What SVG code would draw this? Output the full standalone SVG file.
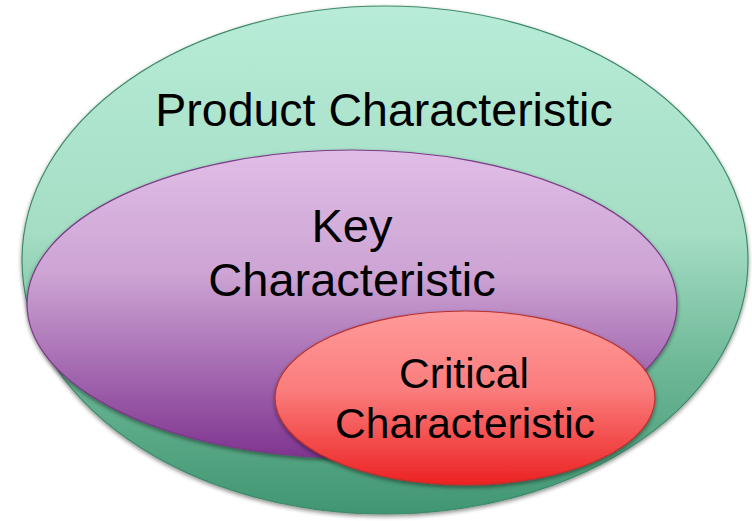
<svg xmlns="http://www.w3.org/2000/svg" width="752" height="521" viewBox="0 0 752 521">
  <defs>
    <linearGradient id="gGreen" x1="0" y1="0" x2="0" y2="1">
      <stop offset="0" stop-color="#b8ecd8"/>
      <stop offset="0.45" stop-color="#a4ddc4"/>
      <stop offset="0.7" stop-color="#6fb998"/>
      <stop offset="1" stop-color="#419672"/>
    </linearGradient>
    <linearGradient id="gPurple" x1="0" y1="0" x2="0" y2="1">
      <stop offset="0" stop-color="#e0bde6"/>
      <stop offset="0.4" stop-color="#cda4d4"/>
      <stop offset="1" stop-color="#7f3490"/>
    </linearGradient>
    <linearGradient id="gRed" x1="0" y1="0" x2="0" y2="1">
      <stop offset="0" stop-color="#ff9a9a"/>
      <stop offset="0.45" stop-color="#fb7d7d"/>
      <stop offset="1" stop-color="#ec2222"/>
    </linearGradient>
    <filter id="shadow" x="-10%" y="-10%" width="120%" height="125%">
      <feGaussianBlur in="SourceAlpha" stdDeviation="2"/>
      <feOffset dx="0" dy="2" result="b"/>
      <feComponentTransfer><feFuncA type="linear" slope="0.45"/></feComponentTransfer>
      <feMerge><feMergeNode/><feMergeNode in="SourceGraphic"/></feMerge>
    </filter>
  </defs>
  <style>
    .lbl { font-family: "Liberation Sans", Arial, sans-serif; fill: #000; text-anchor: middle; }
    .ell { stroke-width: 1.2; filter: url(#shadow); }
  </style>
  <rect width="752" height="521" fill="#ffffff"/>
  <g id="product">
    <ellipse class="ell" cx="385" cy="260" rx="363" ry="254" fill="url(#gGreen)" stroke="#3f8a6a"/>
    <text class="lbl" x="384" y="126" font-size="46.5">Product Characteristic</text>
  </g>
  <g id="key">
    <ellipse class="ell" cx="352" cy="304" rx="325" ry="154" fill="url(#gPurple)" stroke="#7a3a86"/>
    <text class="lbl" x="352" y="242" font-size="47">Key</text>
    <text class="lbl" x="352" y="296" font-size="47">Characteristic</text>
  </g>
  <g id="critical">
    <ellipse class="ell" cx="465" cy="398" rx="190" ry="87" fill="url(#gRed)" stroke="#b83030"/>
    <text class="lbl" x="464" y="388" font-size="42.5">Critical</text>
    <text class="lbl" x="465" y="438" font-size="42.5">Characteristic</text>
  </g>
  <g id="connectors"/>
</svg>
